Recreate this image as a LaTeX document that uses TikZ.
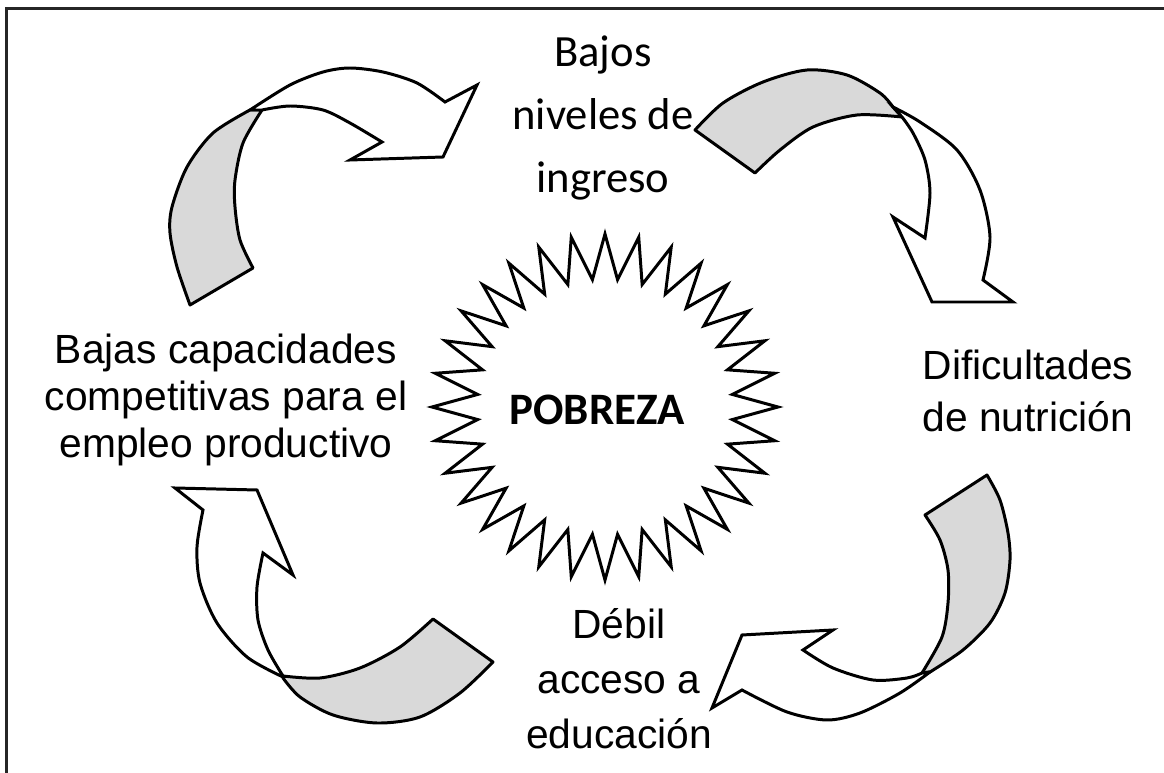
\documentclass[tikz,border=0pt]{standalone}
\usepackage{fontspec}
\setmainfont{Liberation Sans}
\newfontfamily\calibri{Carlito}
\usepackage{tikz}
\usetikzlibrary{positioning}

\begin{document}
\begin{tikzpicture}[x=0.02cm,y=-0.02cm]
		\tikzstyle{band_back} = [draw=black, line width=1.7pt, fill=black!15, line join=round]
		\tikzstyle{band_front} = [draw=black, line width=1.7pt, fill=white, line join=miter]
		\tikzstyle{spikes} = [draw=black, line width=1.7pt, line join=miter]
		\tikzstyle{frame} = [draw=black!85, line width=1.6pt]
		\tikzstyle{txt_arial} = [align=center, inner sep=0]
		\tikzstyle{txt_cal} = [align=center, inner sep=0, font=\calibri]
		\useasboundingbox (0,0) rectangle (1164,773);
		\draw [frame] (1164,8.5) -- (6.5,8.5) -- (6.5,773);
		% texts
		\node [txt_cal, font=\calibri\fontsize{25.4}{35.7}\selectfont] (v1) at (603,118) {Bajos\\niveles de\\ingreso};
		\node [txt_arial, font=\fontsize{23.2}{29.5}\selectfont] (v2) at (1028,391) {Dificultades\\de nutrición};
		\node [txt_arial, font=\fontsize{23.2}{31.2}\selectfont] (v3) at (619,679) {Débil\\acceso a\\educación};
		\node [txt_arial, font=\fontsize{23.2}{26.6}\selectfont] (v4) at (226,400) {Bajas capacidades\\competitivas para el\\empleo productivo};
		\node [txt_cal, font=\calibri\bfseries\fontsize{25.6}{28}\selectfont] (v0) at (597,410) {POBREZA};
		% star round the centre
		\draw [spikes, shift={(605,407)}] (90:173) \foreach \k in {1,...,63} { -- ({90+\k*5.625}:{ifthenelse(mod(\k,2)==0,173,128)}) } -- cycle;
		% top left arrow
		\draw [band_back] plot[smooth] coordinates {(190,305) (177,267) (170,233) (172,207) (187,167) (213,133) (250,110)} -- (262,110) -- plot[smooth] coordinates {(262,110) (243,143) (235,180) (235,207) (240,240) (253,268)} -- cycle;
		\draw [band_front] plot[smooth] coordinates {(250,110) (290,85) (323,72) (350,68) (383,72) (417,83) (445,102)} -- (477,85) -- (443,157) -- (350,160) -- (382,142) -- plot[smooth] coordinates {(382,142) (350,123) (323,110) (290,106) (262,110)} -- cycle;
		% top right arrow
		\draw [band_back] plot[smooth] coordinates {(695,130) (723,103) (763,82) (807,70) (847,75) (880,93) (893,107)} -- (902,117) -- plot[smooth] coordinates {(902,117) (857,115) (813,127) (780,150) (755,173)} -- cycle;
		\draw [band_front] plot[smooth] coordinates {(893,107) (920,122) (957,150) (980,190) (990,237) (983,280)} -- (1013,302) -- (932,302) -- (893,217) -- (925,238) -- plot[smooth] coordinates {(925,238) (930,193) (925,160) (913,133) (902,117)} -- cycle;
		% bottom right arrow
		\draw [band_back] plot[smooth] coordinates {(987,475) (1000,500) (1008,533) (1010,560) (1005,593) (990,623) (963,650) (930,672)} -- (922,673) -- plot[smooth] coordinates {(922,673) (942,637) (948,603) (948,570) (940,540) (925,515)} -- cycle;
		\draw [band_front] plot[smooth] coordinates {(930,672) (900,693) (860,713) (827,720) (787,712) (742,690)} -- (712,708) -- (742,635) -- (833,630) -- (803,650) -- plot[smooth] coordinates {(803,650) (833,668) (873,680) (907,678) (922,673)} -- cycle;
		% bottom left arrow
		\draw [band_back] plot[smooth] coordinates {(433,619) (400,647) (360,668) (320,678) (283,676)} -- plot[smooth] coordinates {(283,678) (300,697) (333,715) (377,723) (420,717) (460,693) (493,662)} -- cycle;
		\draw [band_front] plot[smooth] coordinates {(283,677) (247,657) (217,623) (200,583) (197,547) (203,510)} -- (175,488) -- (257,490) -- (293,575) -- (263,553) -- plot[smooth] coordinates {(263,553) (257,587) (258,620) (268,650) (283,676)} -- cycle;
\end{tikzpicture}
\end{document}
